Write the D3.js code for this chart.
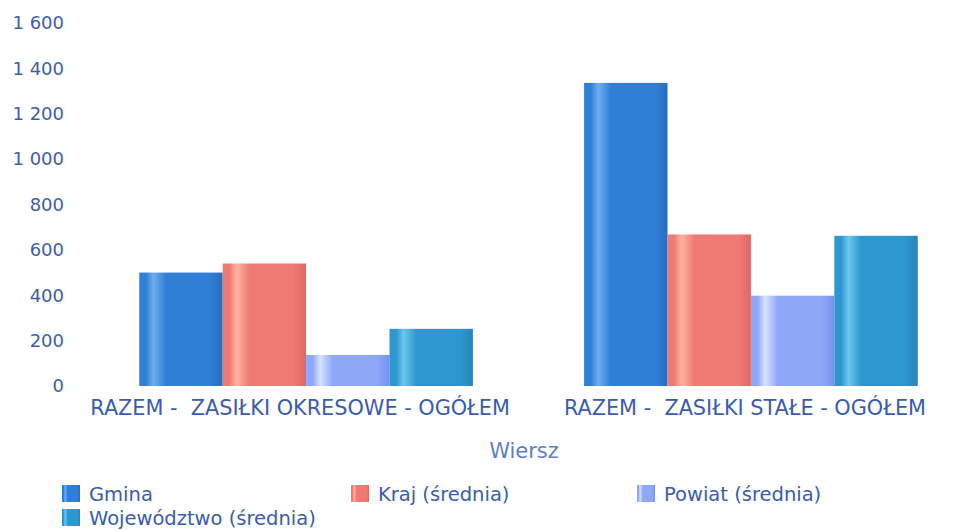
<!DOCTYPE html>
<html>
<head>
<meta charset="utf-8">
<script src="https://cdn.jsdelivr.net/npm/d3@7"></script>
<style>
  body { margin: 0; background: #fff; }
  svg { display: block; font-family: "DejaVu Sans", Verdana, sans-serif; }
</style>
</head>
<body>
<svg id="chart" width="966" height="530"></svg>
<script>
// 데이터
const categories = ["RAZEM -  ZASIŁKI OKRESOWE - OGÓŁEM", "RAZEM -  ZASIŁKI STAŁE - OGÓŁEM"];
const seriesNames = ["Gmina", "Kraj (średnia)", "Powiat (średnia)", "Województwo (średnia)"];
const gmina = [500, 1336];
const kraj = [540, 668];
const powiat = [137, 398];
const wojewodztwo = [252, 662];
const yTicks = [0, 200, 400, 600, 800, 1000, 1200, 1400, 1600];

// 색상: [기본, 하이라이트, 어두운 끝]
const colors = [
	["#2f7fd6", "#6eaeee", "#2a6cbd"],
	["#ef7a74", "#ffb3a0", "#df6866"],
	["#8ea8f7", "#d8e2ff", "#7592f0"],
	["#2f97cf", "#6cc6ee", "#2983b8"]
];

const values = [gmina, kraj, powiat, wojewodztwo];
const data = categories.map((c, i) => ({
	category: c,
	bars: seriesNames.map((s, j) => ({ series: s, idx: j, value: values[j][i] }))
}));

const svg = d3.select("#chart");

// 그라디언트 정의
const defs = svg.append("defs");
colors.forEach((c, j) => {
	const grad = defs.append("linearGradient")
		.attr("id", "grad" + j)
		.attr("x1", "0%").attr("x2", "100%")
		.attr("y1", "0%").attr("y2", "0%");
	grad.append("stop").attr("offset", "0%").attr("stop-color", c[0]);
	grad.append("stop").attr("offset", "8%").attr("stop-color", c[0]);
	grad.append("stop").attr("offset", "17%").attr("stop-color", c[1]);
	grad.append("stop").attr("offset", "32%").attr("stop-color", c[0]);
	grad.append("stop").attr("offset", "85%").attr("stop-color", c[0]);
	grad.append("stop").attr("offset", "100%").attr("stop-color", c[2]);
});

// 스케일
const x0 = d3.scaleBand()
	.domain(categories)
	.range([93, 964])
	.paddingInner(0.25)
	.paddingOuter(0.104);

const x1 = d3.scaleBand()
	.domain(seriesNames)
	.range([0, x0.bandwidth()])
	.padding(0);

const y = d3.scaleLinear()
	.domain([0, 1600])
	.range([386, 23]);

// Y축 (선 없이 라벨만)
const yAxis = svg.append("g")
	.attr("transform", "translate(64,0)")
	.call(d3.axisLeft(y).tickValues(yTicks).tickSize(0).tickPadding(0)
		.tickFormat(d => d3.format(",")(d).replace(/,/g, " ")));
yAxis.select(".domain").remove();
yAxis.selectAll("text")
	.style("font-family", "'DejaVu Sans', Verdana, sans-serif")
	.style("font-size", "18px")
	.style("fill", "#3d5eaa");

// 막대
const groups = svg.selectAll(".group")
	.data(data)
	.enter().append("g")
	.attr("class", "group")
	.attr("transform", d => `translate(${x0(d.category)},0)`);

groups.selectAll("rect")
	.data(d => d.bars)
	.enter().append("rect")
	.attr("x", d => x1(d.series))
	.attr("y", d => y(d.value))
	.attr("width", x1.bandwidth())
	.attr("height", d => y(0) - y(d.value))
	.style("fill", d => `url(#grad${d.idx})`);

// X축 카테고리 라벨
const xAxis = svg.append("g")
	.attr("transform", `translate(0,${y(0)})`)
	.call(d3.axisBottom(x0).tickSize(0).tickPadding(0));
xAxis.select(".domain").remove();
xAxis.selectAll("text")
	.attr("y", 0)
	.attr("x", -6)
	.attr("dy", "29px")
	.style("white-space", "pre")
	.style("font-family", "'DejaVu Sans', Verdana, sans-serif")
	.style("font-size", "20.8px")
	.style("fill", "#3a5cb0");

// 축 제목
svg.append("text")
	.attr("x", 524)
	.attr("y", 458)
	.attr("text-anchor", "middle")
	.style("font-size", "21px")
	.style("fill", "#5d80c8")
	.text("Wiersz");

// 범례
const legendPos = [
	{ x: 62, y: 485 },
	{ x: 351, y: 485 },
	{ x: 637, y: 485 },
	{ x: 62, y: 509 }
];
const legend = svg.selectAll(".legend")
	.data(seriesNames)
	.enter().append("g")
	.attr("class", "legend")
	.attr("transform", (d, i) => `translate(${legendPos[i].x},${legendPos[i].y})`);

legend.append("rect")
	.attr("width", 18)
	.attr("height", 17)
	.style("fill", (d, i) => `url(#grad${i})`);

legend.append("text")
	.attr("x", 27)
	.attr("y", 16)
	.style("font-size", "19.5px")
	.style("fill", "#3a5cb0")
	.text(d => d);
</script>
</body>
</html>
